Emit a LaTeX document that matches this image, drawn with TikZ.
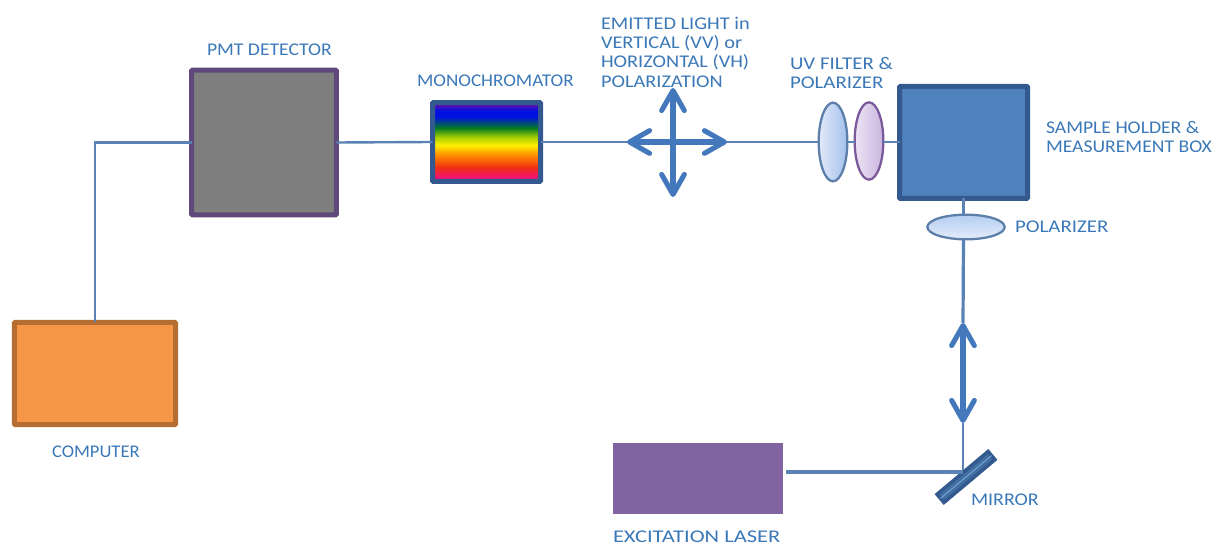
\documentclass[tikz,border=0pt]{standalone}
\usepackage{fontspec}
\setmainfont{Carlito}
\newfontfamily\fz[FakeStretch=1.04]{Carlito}
\newfontfamily\fa[FakeStretch=1.07]{Carlito}
\newfontfamily\fe[FakeStretch=1.10]{Carlito}
\newfontfamily\fb[FakeStretch=1.12]{Carlito}
\newfontfamily\fg[FakeStretch=1.14]{Carlito}
\newfontfamily\fc[FakeStretch=1.17]{Carlito}
\newfontfamily\fd[FakeStretch=1.26]{Carlito}
\usetikzlibrary{shapes.geometric,arrows.meta}
\definecolor{txt}{HTML}{3A78B8}
\definecolor{wire}{HTML}{5A82B4}
\definecolor{beam}{HTML}{4478BC}
\definecolor{boxblue}{HTML}{4F81BD}
\definecolor{boxedge}{HTML}{34598F}
\definecolor{pmtedge}{HTML}{5F497A}
\definecolor{pmtfill}{HTML}{7F7F7F}
\definecolor{compedge}{HTML}{B66D31}
\definecolor{compfill}{HTML}{F79646}
\definecolor{laserfill}{HTML}{8064A2}
\definecolor{lensedge}{HTML}{5B7FA8}
\definecolor{lensedgeb}{HTML}{7A5A9A}
\definecolor{uvl}{HTML}{E2EAFA}
\definecolor{uvr}{HTML}{A3C0EC}
\definecolor{pvl}{HTML}{EDE4F3}
\definecolor{pvr}{HTML}{C9B4DF}
\definecolor{pht}{HTML}{B4CDF1}
\definecolor{phb}{HTML}{E4EDFB}
\definecolor{rmag}{HTML}{F0107A}
\definecolor{rred}{HTML}{F03010}
\definecolor{rora}{HTML}{FF9000}
\definecolor{ryel}{HTML}{FFF000}
\definecolor{ryg}{HTML}{A8D000}
\definecolor{rgrn}{HTML}{007A20}
\definecolor{rblu}{HTML}{0010E0}
\definecolor{rvio}{HTML}{5A10B0}
\definecolor{stripe}{HTML}{6FA0DC}
\pgfdeclareverticalshading{rainbowfill}{100bp}{
  color(0bp)=(rmag);
  color(27bp)=(rmag);
  color(34bp)=(rred);
  color(42bp)=(rora);
  color(48bp)=(ryel);
  color(53bp)=(ryg);
  color(59bp)=(rgrn);
  color(66bp)=(rblu);
  color(70bp)=(rblu);
  color(73.5bp)=(rvio);
  color(100bp)=(rvio)}
\tikzset{
  px/.style={x=0.75pt,y=-0.75pt},
  lab/.style={text=txt,font=\fontsize{13.4pt}{14.5pt}\selectfont,anchor=west,inner sep=0pt,outer sep=0pt,align=left},
  blk/.style={rectangle,inner sep=0pt,outer sep=0pt,line width=3.75pt,rounded corners=0.6pt},
  lens/.style={ellipse,inner sep=0pt,outer sep=0pt,line width=1.7pt},
  wireline/.style={draw=wire,line width=1.8pt},
  beamline/.style={draw=wire,line width=2.4pt},
  dbl/.style={draw=beam,line width=3.8pt,line cap=round,
    {Straight Barb[length=15pt,width=17pt,line width=3.8pt,round]}-{Straight Barb[length=15pt,width=17pt,line width=3.8pt,round]}}
}
\begin{document}
\begin{tikzpicture}[px]
\useasboundingbox (0,0) rectangle (1214,545);
% blocks
\node[blk,draw=pmtedge,fill=pmtfill,minimum width=108.5pt,minimum height=108.5pt] (pmt) at (264,142.5) {};
\node[blk,draw=compedge,fill=compfill,minimum width=121pt,minimum height=76.5pt] (comp) at (95,373.5) {};
\node[blk,draw=boxedge,shading=rainbowfill,minimum width=81pt,minimum height=59pt] (mono) at (486.5,142) {};
\node[blk,draw=boxedge,fill=boxblue,minimum width=96pt,minimum height=84pt] (box) at (963.5,142.5) {};
\node[rectangle,inner sep=0pt,outer sep=0pt,fill=laserfill,minimum width=128pt,minimum height=53pt] (laser) at (698,478.5) {};
% lenses
\node[lens,draw=lensedge,left color=uvl,right color=uvr,minimum width=21.5pt,minimum height=59pt] (uv) at (833,142) {};
\node[lens,draw=lensedgeb,left color=pvl,right color=pvr,minimum width=21.5pt,minimum height=58pt] (polv) at (869,141) {};
\node[lens,draw=lensedge,top color=pht,bottom color=phb,minimum width=58pt,minimum height=18.5pt] (polh) at (966,227) {};
% free coordinates
\coordinate (crossl) at (627,142);
\coordinate (crossr) at (727,142);
\coordinate (crosst) at (673,88);
\coordinate (crossb) at (673,197);
\coordinate (arrt) at (963,323);
\coordinate (arrb) at (963,423);
\coordinate (hit) at (963,472);
% connectors
\draw[wireline] (comp.north) |- (pmt.west);
\draw[wireline] (pmt.east) -- (mono.west);
\draw[wireline] (mono.east) -- (uv.west);
\draw[wireline] (uv.east) -- (polv.west |- uv.east);
\draw[wireline] (polv.east |- uv.east) -- (box.west |- uv.east);
\draw[beamline] (box.south) -- (box.south |- polh.north);
\draw[beamline] (box.south |- polh.south) -- (arrt);
\draw[wireline] (arrb) -- (hit);
% mirror
\node[rectangle,rotate=40,inner sep=0pt,outer sep=0pt,draw=boxedge,line width=2.6pt,fill=boxblue!85!black,minimum width=50pt,minimum height=8pt] (mirror) at (966,477) {};
\draw[stripe,line width=0.8pt] (mirror.west) -- (mirror.east);
\draw[beamline,shorten <=2.2pt] (laser.east |- hit) -- (hit);
% double arrows
\draw[dbl] (crossl) -- (crossr);
\draw[dbl] (crosst) -- (crossb);
\draw[dbl] (arrt) -- (arrb);
% labels
\node[lab] (tpmt) at (207,50) {\fe PMT DETECTOR};
\node[lab] (tmono) at (417,81) {\fa MONOCHROMATOR};
\node[lab,anchor=north west] (temit) at (601,17) {\fg EMITTED LIGHT in\\\fg VERTICAL (VV) or\\\fg HORIZONTAL (VH)\\\fg POLARIZATION};
\node[lab,anchor=north west] (tuv) at (790,57) {\fc UV FILTER \&\\\fc POLARIZER};
\node[lab,anchor=north west] (tbox) at (1046,121) {\fe SAMPLE HOLDER \&\\\fe MEASUREMENT BOX};
\node[lab] (tpol) at (1015,227) {\fc POLARIZER};
\node[lab] (tcomp) at (52,452) {\fz COMPUTER};
\node[lab] (tlaser) at (613,537) {\fd EXCITATION LASER};
\node[lab] (tmirror) at (971,500) {\fb MIRROR};
\end{tikzpicture}
\end{document}
